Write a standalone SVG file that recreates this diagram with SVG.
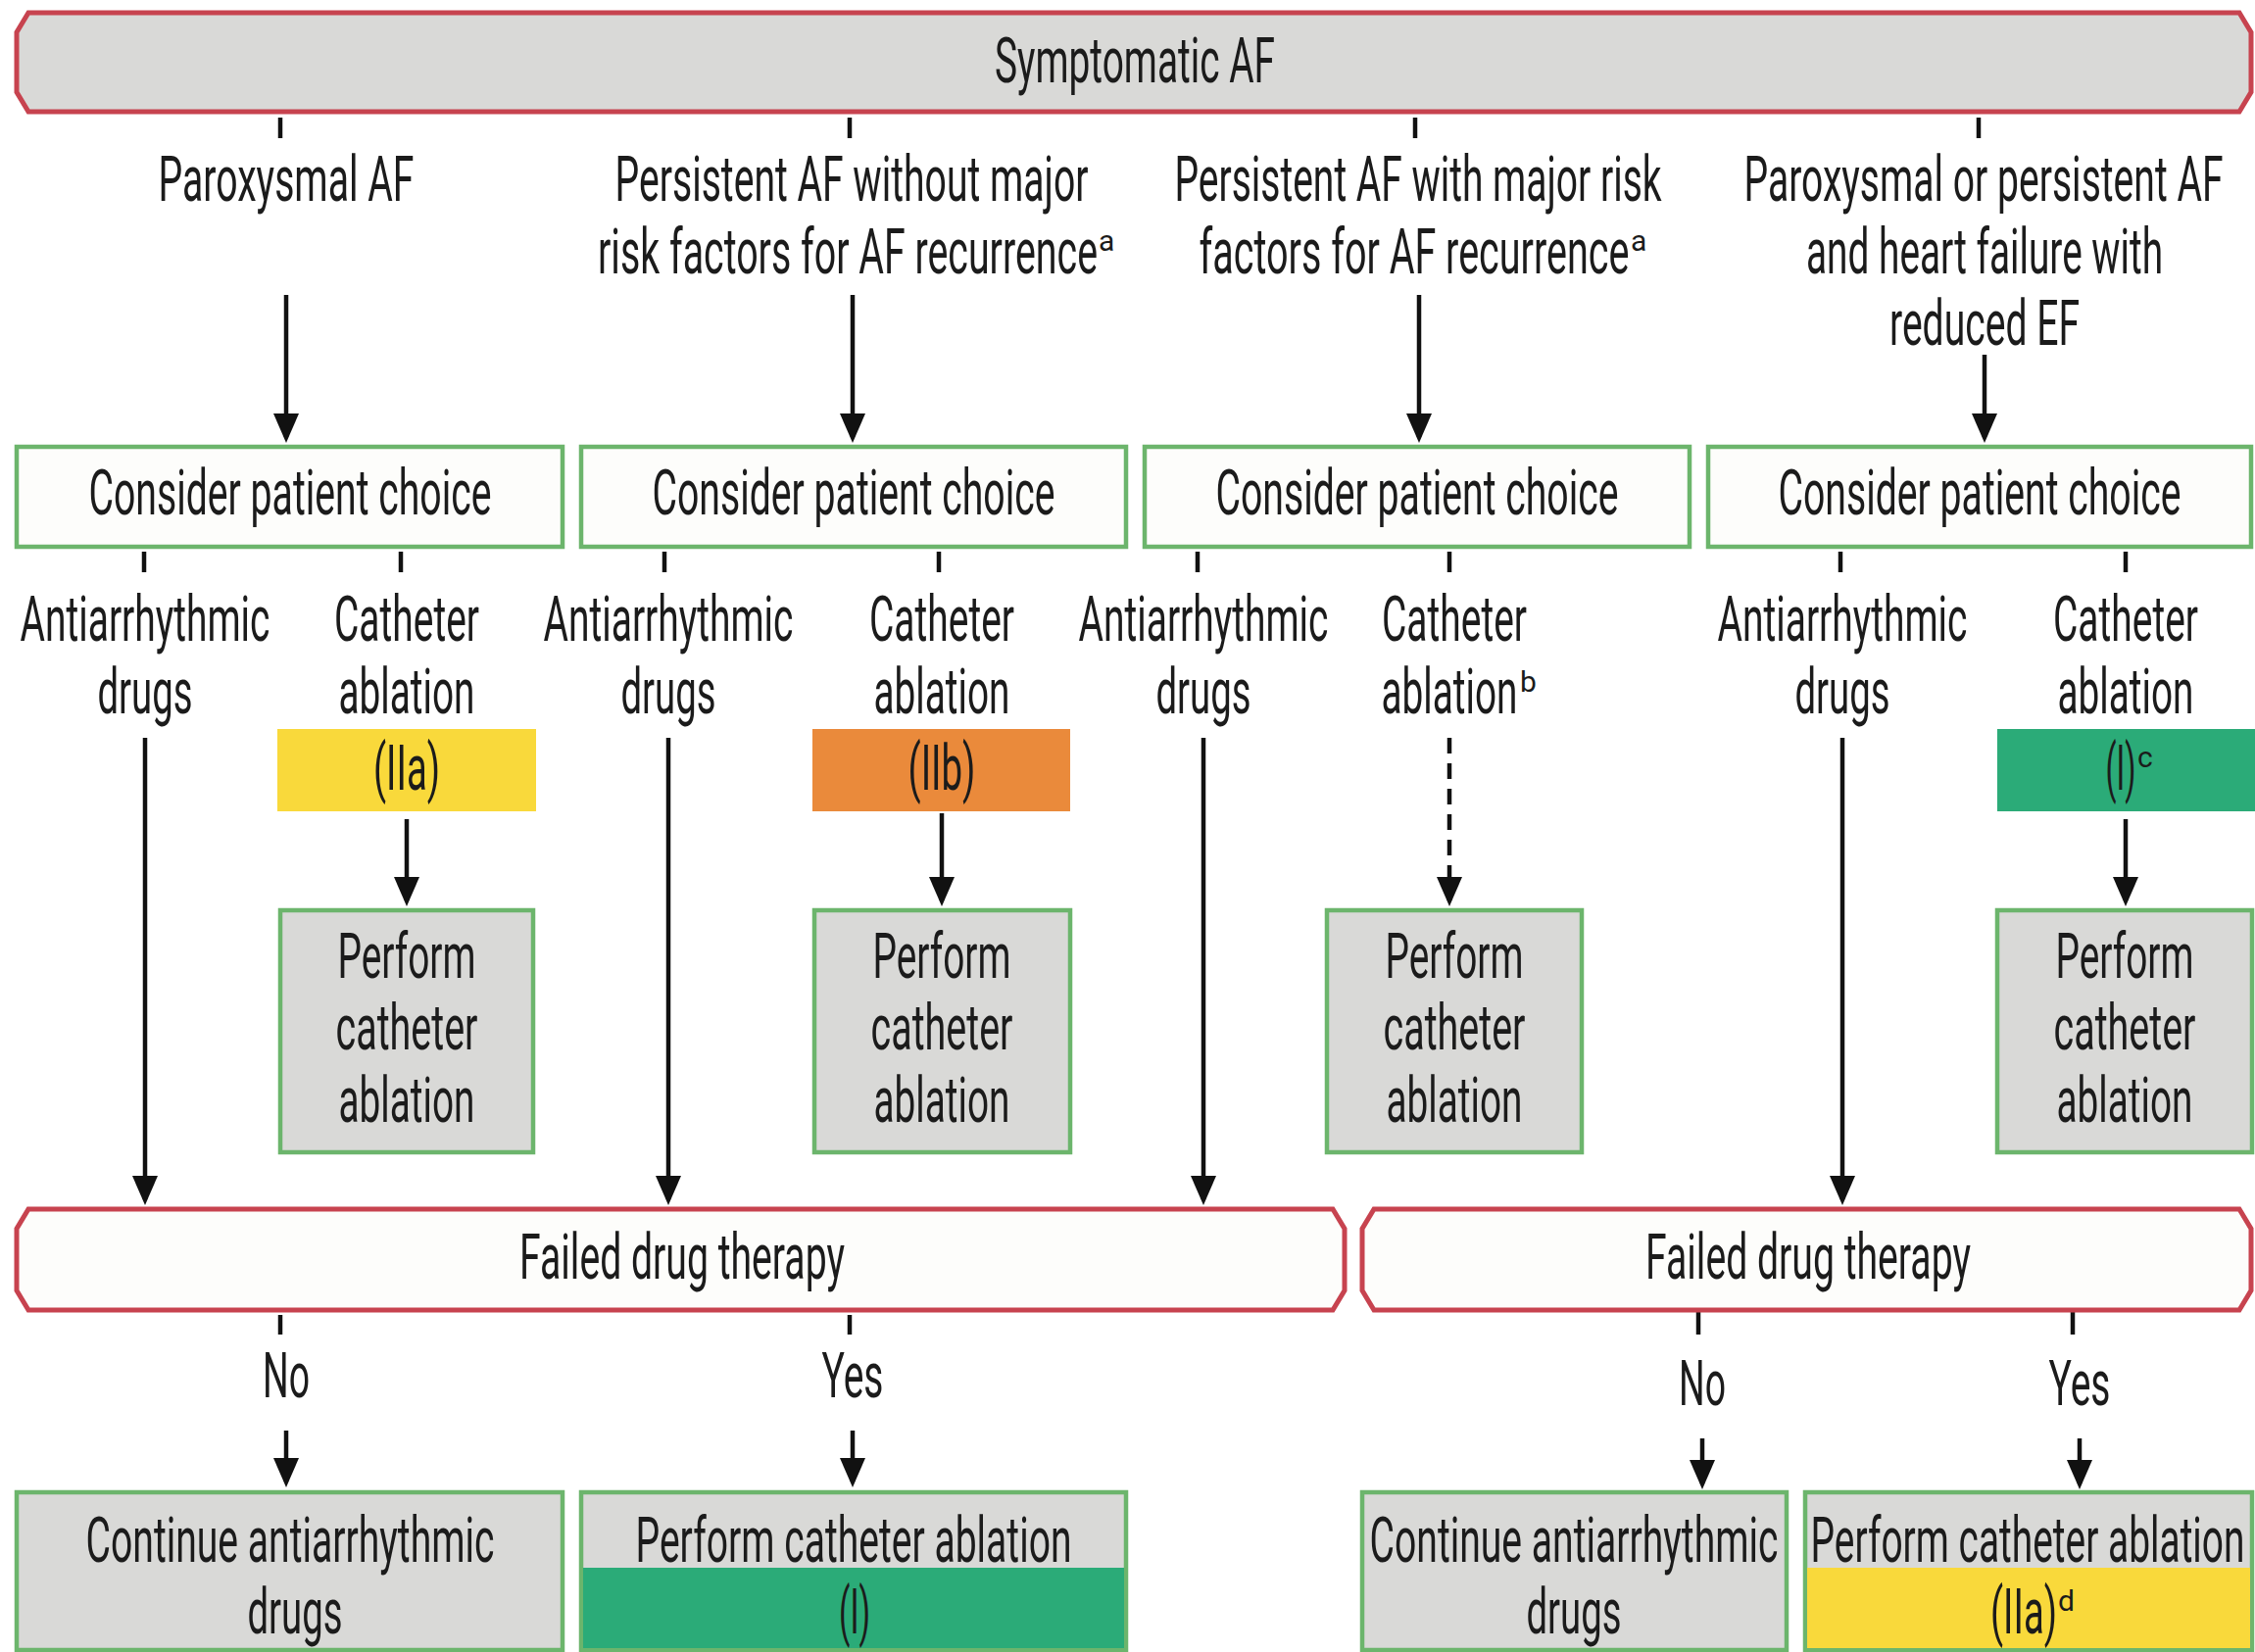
<svg xmlns="http://www.w3.org/2000/svg" width="2301" height="1686" viewBox="0 0 2301 1686">
<defs>
<style>
.t{font-family:Roboto,"Liberation Sans",sans-serif;font-size:64px;fill:#1b1b1b;text-anchor:middle}
.s{font-family:Roboto,"Liberation Sans",sans-serif;font-size:30px;fill:#1b1b1b}
.ban{fill:#d9d9d7;stroke:#c7434f;stroke-width:5}
.banw{fill:#fdfdfb;stroke:#c7434f;stroke-width:5}
.gbox{fill:#fdfdfb;stroke:#6cb56c;stroke-width:4.5}
.gray{fill:#d9d9d7;stroke:#6cb56c;stroke-width:4.5}
.c{stroke:#111;stroke-width:4.5;fill:none}
.a{stroke:#111;stroke-width:4.5;fill:none;marker-end:url(#ah)}
.d{stroke:#111;stroke-width:4.5;fill:none;stroke-dasharray:16 10;marker-end:url(#ah)}
</style>
<marker id="ah" viewBox="0 0 30 26" refX="24" refY="13" markerWidth="30" markerHeight="26" markerUnits="userSpaceOnUse" orient="auto">
<path d="M0,0 L30,13 L0,26 z" fill="#111"/>
</marker>
</defs>
<rect width="2301" height="1686" fill="#ffffff"/>

<g id="connectors">
<!-- ticks under top banner -->
<line class="c" x1="286" y1="120" x2="286" y2="141"/>
<line class="c" x1="867" y1="120" x2="867" y2="141"/>
<line class="c" x1="1444" y1="120" x2="1444" y2="141"/>
<line class="c" x1="2019" y1="120" x2="2019" y2="141"/>
<!-- arrows to consider boxes -->
<line class="a" x1="292" y1="301" x2="292" y2="446"/>
<line class="a" x1="870" y1="301" x2="870" y2="446"/>
<line class="a" x1="1448" y1="301" x2="1448" y2="446"/>
<line class="a" x1="2025" y1="362" x2="2025" y2="446"/>
<!-- ticks under consider boxes -->
<line class="c" x1="147" y1="563" x2="147" y2="584"/>
<line class="c" x1="409" y1="563" x2="409" y2="584"/>
<line class="c" x1="678" y1="563" x2="678" y2="584"/>
<line class="c" x1="958" y1="563" x2="958" y2="584"/>
<line class="c" x1="1222" y1="563" x2="1222" y2="584"/>
<line class="c" x1="1479" y1="563" x2="1479" y2="584"/>
<line class="c" x1="1878" y1="563" x2="1878" y2="584"/>
<line class="c" x1="2169" y1="563" x2="2169" y2="584"/>
<!-- long drug arrows -->
<line class="a" x1="148" y1="753" x2="148" y2="1224"/>
<line class="a" x1="682" y1="753" x2="682" y2="1224"/>
<line class="a" x1="1228" y1="753" x2="1228" y2="1224"/>
<line class="a" x1="1880" y1="753" x2="1880" y2="1224"/>
<!-- class to perform arrows -->
<line class="a" x1="415" y1="836" x2="415" y2="919"/>
<line class="a" x1="961" y1="830" x2="961" y2="919"/>
<line class="d" x1="1479" y1="753" x2="1479" y2="919"/>
<line class="a" x1="2169" y1="836" x2="2169" y2="919"/>
<!-- ticks under failed banners -->
<line class="c" x1="286" y1="1342" x2="286" y2="1362"/>
<line class="c" x1="867" y1="1342" x2="867" y2="1362"/>
<line class="c" x1="1733" y1="1337" x2="1733" y2="1362"/>
<line class="c" x1="2115" y1="1337" x2="2115" y2="1362"/>
<!-- No / Yes arrows -->
<line class="a" x1="292" y1="1460" x2="292" y2="1512"/>
<line class="a" x1="870" y1="1460" x2="870" y2="1512"/>
<line class="a" x1="1737" y1="1468" x2="1737" y2="1514"/>
<line class="a" x1="2122" y1="1468" x2="2122" y2="1514"/>
</g>

<g id="symptomatic">
<polygon class="ban" points="29,13 2285,13 2297,33 2297,94 2285,114 29,114 17,94 17,33"/>
<text class="t" x="1158" y="84" textLength="286" lengthAdjust="spacingAndGlyphs">Symptomatic AF</text>
</g>

<g id="type1">
<text class="t" x="292" y="205" textLength="261" lengthAdjust="spacingAndGlyphs">Paroxysmal AF</text>
</g>
<g id="type2">
<text class="t" x="869" y="205" textLength="483" lengthAdjust="spacingAndGlyphs">Persistent AF without major</text>
<text class="t" x="865" y="279" textLength="510" lengthAdjust="spacingAndGlyphs">risk factors for AF recurrence</text>
<text class="s" x="1121" y="256">a</text>
</g>
<g id="type3">
<text class="t" x="1447" y="205" textLength="497" lengthAdjust="spacingAndGlyphs">Persistent AF with major risk</text>
<text class="t" x="1443" y="279" textLength="439" lengthAdjust="spacingAndGlyphs">factors for AF recurrence</text>
<text class="s" x="1664" y="256">a</text>
</g>
<g id="type4">
<text class="t" x="2024" y="205" textLength="489" lengthAdjust="spacingAndGlyphs">Paroxysmal or persistent AF</text>
<text class="t" x="2025" y="279" textLength="364" lengthAdjust="spacingAndGlyphs">and heart failure with</text>
<text class="t" x="2025" y="352" textLength="194" lengthAdjust="spacingAndGlyphs">reduced EF</text>
</g>

<g id="choice1">
<rect class="gbox" x="17" y="456" width="557" height="102"/>
<text class="t" x="296" y="525" textLength="411" lengthAdjust="spacingAndGlyphs">Consider patient choice</text>
</g>
<g id="choice2">
<rect class="gbox" x="593" y="456" width="556" height="102"/>
<text class="t" x="871" y="525" textLength="411" lengthAdjust="spacingAndGlyphs">Consider patient choice</text>
</g>
<g id="choice3">
<rect class="gbox" x="1168" y="456" width="556" height="102"/>
<text class="t" x="1446" y="525" textLength="411" lengthAdjust="spacingAndGlyphs">Consider patient choice</text>
</g>
<g id="choice4">
<rect class="gbox" x="1743" y="456" width="554" height="102"/>
<text class="t" x="2020" y="525" textLength="411" lengthAdjust="spacingAndGlyphs">Consider patient choice</text>
</g>

<g id="aad1">
<text class="t" x="148" y="654" textLength="255" lengthAdjust="spacingAndGlyphs">Antiarrhythmic</text>
<text class="t" x="148" y="728" textLength="97" lengthAdjust="spacingAndGlyphs">drugs</text>
</g>
<g id="aad2">
<text class="t" x="682" y="654" textLength="255" lengthAdjust="spacingAndGlyphs">Antiarrhythmic</text>
<text class="t" x="682" y="728" textLength="97" lengthAdjust="spacingAndGlyphs">drugs</text>
</g>
<g id="aad3">
<text class="t" x="1228" y="654" textLength="255" lengthAdjust="spacingAndGlyphs">Antiarrhythmic</text>
<text class="t" x="1228" y="728" textLength="97" lengthAdjust="spacingAndGlyphs">drugs</text>
</g>
<g id="aad4">
<text class="t" x="1880" y="654" textLength="255" lengthAdjust="spacingAndGlyphs">Antiarrhythmic</text>
<text class="t" x="1880" y="728" textLength="97" lengthAdjust="spacingAndGlyphs">drugs</text>
</g>

<g id="cath1">
<text class="t" x="415" y="654" textLength="148" lengthAdjust="spacingAndGlyphs">Catheter</text>
<text class="t" x="415" y="728" textLength="139" lengthAdjust="spacingAndGlyphs">ablation</text>
</g>
<g id="cath2">
<text class="t" x="961" y="654" textLength="148" lengthAdjust="spacingAndGlyphs">Catheter</text>
<text class="t" x="961" y="728" textLength="139" lengthAdjust="spacingAndGlyphs">ablation</text>
</g>
<g id="cath3">
<text class="t" x="1484" y="654" textLength="148" lengthAdjust="spacingAndGlyphs">Catheter</text>
<text class="t" x="1479" y="728" textLength="139" lengthAdjust="spacingAndGlyphs">ablation</text>
<text class="s" x="1551" y="706">b</text>
</g>
<g id="cath4">
<text class="t" x="2169" y="654" textLength="148" lengthAdjust="spacingAndGlyphs">Catheter</text>
<text class="t" x="2169" y="728" textLength="139" lengthAdjust="spacingAndGlyphs">ablation</text>
</g>

<g id="class1">
<rect x="283" y="744" width="264" height="84" fill="#f9d93b"/>
<text class="t" x="415" y="806" textLength="68" lengthAdjust="spacingAndGlyphs">(IIa)</text>
</g>
<g id="class2">
<rect x="829" y="744" width="263" height="84" fill="#ea8a3b"/>
<text class="t" x="961" y="806" textLength="69" lengthAdjust="spacingAndGlyphs">(IIb)</text>
</g>
<g id="class4">
<rect x="2038" y="744" width="263" height="84" fill="#2bab78"/>
<text class="t" x="2164" y="806" textLength="31" lengthAdjust="spacingAndGlyphs">(I)</text>
<text class="s" x="2181" y="783">c</text>
</g>

<g id="perform1">
<rect class="gray" x="286" y="929" width="258" height="247"/>
<text class="t" x="415" y="998" textLength="141" lengthAdjust="spacingAndGlyphs">Perform</text>
<text class="t" x="415" y="1071" textLength="145" lengthAdjust="spacingAndGlyphs">catheter</text>
<text class="t" x="415" y="1145" textLength="139" lengthAdjust="spacingAndGlyphs">ablation</text>
</g>
<g id="perform2">
<rect class="gray" x="831" y="929" width="261" height="247"/>
<text class="t" x="961" y="998" textLength="141" lengthAdjust="spacingAndGlyphs">Perform</text>
<text class="t" x="961" y="1071" textLength="145" lengthAdjust="spacingAndGlyphs">catheter</text>
<text class="t" x="961" y="1145" textLength="139" lengthAdjust="spacingAndGlyphs">ablation</text>
</g>
<g id="perform3">
<rect class="gray" x="1354" y="929" width="260" height="247"/>
<text class="t" x="1484" y="998" textLength="141" lengthAdjust="spacingAndGlyphs">Perform</text>
<text class="t" x="1484" y="1071" textLength="145" lengthAdjust="spacingAndGlyphs">catheter</text>
<text class="t" x="1484" y="1145" textLength="139" lengthAdjust="spacingAndGlyphs">ablation</text>
</g>
<g id="perform4">
<rect class="gray" x="2038" y="929" width="260" height="247"/>
<text class="t" x="2168" y="998" textLength="141" lengthAdjust="spacingAndGlyphs">Perform</text>
<text class="t" x="2168" y="1071" textLength="145" lengthAdjust="spacingAndGlyphs">catheter</text>
<text class="t" x="2168" y="1145" textLength="139" lengthAdjust="spacingAndGlyphs">ablation</text>
</g>

<g id="failed1">
<polygon class="banw" points="29,1234 1360,1234 1372,1254 1372,1317 1360,1337 29,1337 17,1317 17,1254"/>
<text class="t" x="696" y="1305" textLength="332" lengthAdjust="spacingAndGlyphs">Failed drug therapy</text>
</g>
<g id="failed2">
<polygon class="banw" points="1402,1234 2285,1234 2297,1254 2297,1317 2285,1337 1402,1337 1390,1317 1390,1254"/>
<text class="t" x="1845" y="1305" textLength="332" lengthAdjust="spacingAndGlyphs">Failed drug therapy</text>
</g>

<g id="no1"><text class="t" x="292" y="1426" textLength="48" lengthAdjust="spacingAndGlyphs">No</text></g>
<g id="yes1"><text class="t" x="870" y="1426" textLength="63" lengthAdjust="spacingAndGlyphs">Yes</text></g>
<g id="no2"><text class="t" x="1737" y="1434" textLength="48" lengthAdjust="spacingAndGlyphs">No</text></g>
<g id="yes2"><text class="t" x="2122" y="1434" textLength="63" lengthAdjust="spacingAndGlyphs">Yes</text></g>

<g id="continue1">
<rect class="gray" x="17" y="1523" width="557" height="161"/>
<text class="t" x="296" y="1594" textLength="417" lengthAdjust="spacingAndGlyphs">Continue antiarrhythmic</text>
<text class="t" x="301" y="1667" textLength="97" lengthAdjust="spacingAndGlyphs">drugs</text>
</g>
<g id="ablate1">
<rect class="gray" x="593" y="1523" width="556" height="161"/>
<rect x="595" y="1600" width="552" height="82" fill="#2bab78"/>
<text class="t" x="871" y="1594" textLength="445" lengthAdjust="spacingAndGlyphs">Perform catheter ablation</text>
<text class="t" x="872" y="1667" textLength="32" lengthAdjust="spacingAndGlyphs">(I)</text>
</g>
<g id="continue2">
<rect class="gray" x="1390" y="1523" width="433" height="161"/>
<text class="t" x="1606" y="1594" textLength="417" lengthAdjust="spacingAndGlyphs">Continue antiarrhythmic</text>
<text class="t" x="1606" y="1667" textLength="97" lengthAdjust="spacingAndGlyphs">drugs</text>
</g>
<g id="ablate2">
<rect class="gray" x="1842" y="1523" width="456" height="161"/>
<rect x="1844" y="1600" width="452" height="82" fill="#f9d93b"/>
<text class="t" x="2069" y="1594" textLength="443" lengthAdjust="spacingAndGlyphs">Perform catheter ablation</text>
<text class="t" x="2065" y="1667" textLength="68" lengthAdjust="spacingAndGlyphs">(IIa)</text>
<text class="s" x="2100" y="1644">d</text>
</g>
</svg>
